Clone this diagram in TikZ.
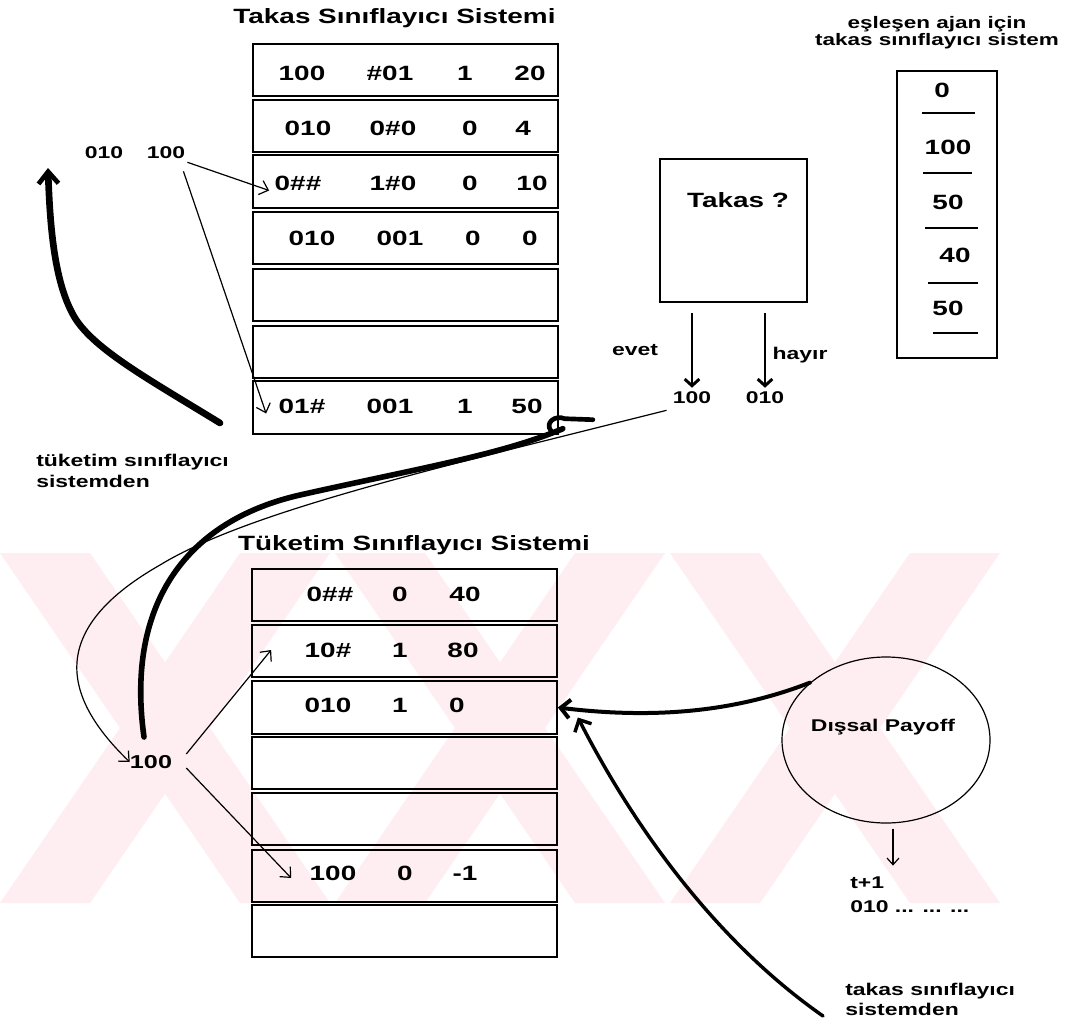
\documentclass[tikz,border=0pt]{standalone}
\usepackage{fontspec}
\newfontfamily\hv{Liberation Sans}[UprightFont={* Bold},FakeStretch=1.35]
\usetikzlibrary{arrows.meta,shapes.geometric,calc}
\definecolor{wm}{RGB}{254,238,241}
\begin{document}
\begin{tikzpicture}[x=0.75pt,y=-0.75pt,
  row/.style={draw,line width=1.3pt,minimum width=228.75pt,minimum height=39.5pt,inner sep=0pt},
  big/.style={font=\hv\fontsize{15.5}{17}\selectfont,inner sep=0pt},
  sm/.style={font=\hv\fontsize{12.75}{14}\selectfont,inner sep=0pt},
  thinln/.style={line width=0.9pt},
  barb/.style={-{Straight Barb[length=6pt,width=11pt]}},
  hbarb/.style={-{Straight Barb[length=7pt,width=14pt]}},
]
\fill[white] (0,0) rectangle (1077,1024);
\useasboundingbox (0,0) rectangle (1077,1024);

% watermark
\begin{scope}
\clip (0,553) rectangle (1000,903);
\foreach \c in {165,500,835} {
  \fill[wm] (\c-165,553) -- (\c-75,553) -- (\c+165,903) -- (\c+75,903) -- cycle;
  \fill[wm] (\c+75,553) -- (\c+165,553) -- (\c-75,903) -- (\c-165,903) -- cycle;
}
\end{scope}

% ---------- top table ----------
\node[big] (title1) at (394.5,18) {Takas Sınıflayıcı Sistemi};
\foreach \i/\y in {1/70,2/126,3/181.5,4/238,5/295,6/352,7/407.5}
  \node[row] (T\i) at (405.5,\y) {};
\node[big] (t1a) at (302,73) {100};
\node[big] (t1b) at (390,73) {\#01};
\node[big] (t1c) at (465,73) {1};
\node[big] (t1d) at (530,73) {20};
\node[big] (t2a) at (308,128) {010};
\node[big] (t2b) at (393,128) {0\#0};
\node[big] (t2c) at (470,128) {0};
\node[big] (t2d) at (523,128) {4};
\node[big] (t3a) at (298,183) {0\#\#};
\node[big] (t3b) at (393,183) {1\#0};
\node[big] (t3c) at (470,183) {0};
\node[big] (t3d) at (532,183) {10};
\node[big] (t4a) at (312,238) {010};
\node[big] (t4b) at (400,238) {001};
\node[big] (t4c) at (473,238) {0};
\node[big] (t4d) at (530,238) {0};
\node[big] (t7a) at (302,406) {01\#};
\node[big] (t7b) at (390,406) {001};
\node[big] (t7c) at (465,406) {1};
\node[big] (t7d) at (527,406) {50};

% ---------- left labels ----------
\node[sm] (L010) at (104,153) {010};
\node[sm] (L100) at (166,153) {100};
\draw[thinln,barb] ($(L100.south east)+(2,3)$) -- ($(T3.west)+(17,9)$);
\draw[thinln,barb] ($(L100.south east)+(-2,12)$) -- ($(T7.west)+(14,6)$);

\coordinate (c1s) at (220,423);
\coordinate (c1e) at (48,168);
\draw[line width=5pt,line cap=round,-{Straight Barb[length=9pt,width=15pt,line width=3.5pt]}]
  (c1s) .. controls (150,380) and (95,350) .. (75,318)
        .. controls (55,285) and (50,230) .. (c1e);

\node[font=\hv\fontsize{12.75}{15.75}\selectfont,inner sep=0pt,align=left,anchor=north west] (tl) at (36,454) {tüketim sınıflayıcı\\sistemden};

% ---------- Takas box ----------
\node[draw,line width=1.3pt,minimum width=110.25pt,minimum height=107.25pt,inner sep=0pt] (tk) at (733.5,230.5) {};
\node[big] (tkt) at (738,200) {Takas ?};
\node[sm] (e100) at (692,398) {100};
\node[sm] (h010) at (765,398) {010};
\node[sm] (evet) at (635,350) {evet};
\node[sm] (hayir) at (800,355) {hayır};
\draw[line width=2.2pt,-{Straight Barb[length=5pt,width=11pt]},shorten <=7.5pt,shorten >=3pt] (tk.south -| e100) -- (e100.north);
\draw[line width=2.2pt,-{Straight Barb[length=5pt,width=11pt]},shorten <=7.5pt,shorten >=3pt] (tk.south -| h010) -- (h010.north);

% ---------- right column ----------
\node[font=\hv\fontsize{12.5}{11.5}\selectfont,align=center,inner sep=0pt] (rh) at (937,33) {eşleşen ajan için\\takas sınıflayıcı sistem};
\node[draw,line width=1.3pt,minimum width=75pt,minimum height=215.25pt,inner sep=0pt] (rc) at (947,214.5) {};
\node[big] (r1) at (942,90) {0};
\node[big] (r2) at (948,147) {100};
\node[big] (r3) at (948,202) {50};
\node[big] (r4) at (955,255) {40};
\node[big] (r5) at (948,308) {50};
\draw[line width=1.2pt] (922,113) -- (975,113);
\draw[line width=1.2pt] (923,173) -- (972,173);
\draw[line width=1.2pt] (925,228) -- (978,228);
\draw[line width=1.2pt] (928,283) -- (978,283);
\draw[line width=1.2pt] (933,333) -- (978,333);

% ---------- bottom table ----------
\node[big] (title2) at (414,545) {Tüketim Sınıflayıcı Sistemi};
\foreach \i/\y in {1/595,2/651,3/707.5,4/763,5/819,6/876,7/931}
  \node[row] (B\i) at (404.5,\y) {};
\node[big] (b1a) at (330,594) {0\#\#};
\node[big] (b1b) at (400,594) {0};
\node[big] (b1c) at (465,594) {40};
\node[big] (b2a) at (328,650) {10\#};
\node[big] (b2b) at (400,650) {1};
\node[big] (b2c) at (463,650) {80};
\node[big] (b3a) at (328,705) {010};
\node[big] (b3b) at (400,705) {1};
\node[big] (b3c) at (457,705) {0};
\node[big] (b6a) at (333,873) {100};
\node[big] (b6b) at (405,873) {0};
\node[big] (b6c) at (465,873) {-1};

\node[font=\hv\fontsize{14}{16}\selectfont,inner sep=0pt] (B100) at (151,762) {100};
\draw[thinln,barb] ($(B100.east)+(14,-8)$) -- ($(B2.west)+(20,-1)$);
\draw[thinln,barb] ($(B100.east)+(14,6)$) -- ($(B6.west)+(40,2)$);

% thin curve from evet-100 to B100
\draw[thinln,barb] ($(e100.south west)+(-6,6)$) .. controls (450,465) and (250,510) .. (160,565)
   .. controls (55,625) and (55,690) .. (B100.west);

% thick S-curve from B100 to top table row 7
\coordinate (c2s) at (144,737);
\draw[line width=4.2pt,line cap=round] (c2s) .. controls (125,600) and (190,520) .. (300,495)
   .. controls (420,468) and (500,455) .. ($(T7.south east)+(4,-6)$);
\draw[line width=3.5pt,line cap=round] ($(T7.south east)+(-8,-4)$) .. controls ($(T7.south east)+(-14,-12)$) and ($(T7.south east)+(-4,-20)$) .. ($(T7.south east)+(6,-16)$) -- ($(T7.south east)+(34,-15)$);

% ---------- payoff ----------
\node[draw,ellipse,line width=0.9pt,minimum width=156pt,minimum height=124.5pt,inner sep=0pt] (pay) at (886,740) {};
\node[sm] (payt) at (883,727) {Dışsal Payoff};
\draw[line width=3pt,line cap=round,hbarb] (pay.143) .. controls (740,710) and (660,720) .. (B3.east);
\draw[thinln,-{Straight Barb[length=5pt,width=9pt]}] ($(pay.south)+(7,5)$) -- ($(pay.south)+(7,42)$);
\node[sm,anchor=west] (tp1) at (850,883) {t+1};
\node[sm,anchor=west] (t010) at (850,907) {010 ... ... ...};

\node[font=\hv\fontsize{12.75}{15}\selectfont,inner sep=0pt,align=left,anchor=west] (ts) at (845,999) {takas sınıflayıcı\\sistemden};
\draw[line width=2.6pt,line cap=round,hbarb] ($(ts.west)+(-22,17)$) .. controls (700,930) and (620,800) .. ($(B3.east)+(20,10)$);
\end{tikzpicture}
\end{document}
